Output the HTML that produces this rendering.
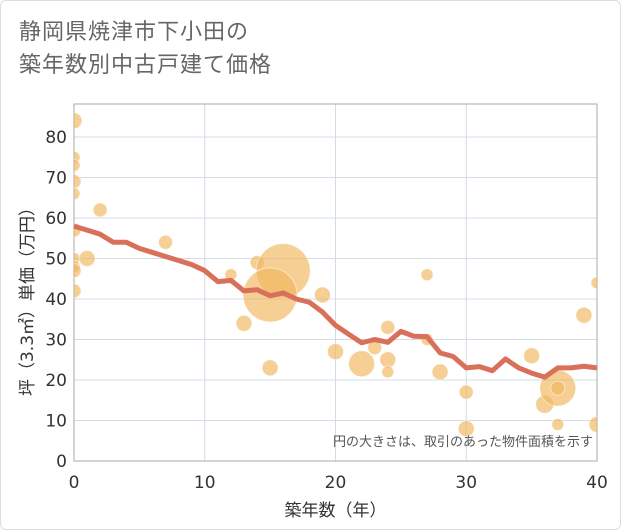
<!DOCTYPE html>
<html><head><meta charset="utf-8"><style>
body{margin:0;background:#fff;}
#wrap{position:relative;width:619px;height:528px;border:1px solid #ddd;border-radius:6px;background:#fff;font-family:"DejaVu Sans","Noto Sans CJK JP",sans-serif;}
#title{position:absolute;left:18px;top:14px;font-family:"Liberation Sans","Noto Sans CJK JP",sans-serif;font-size:22px;line-height:33px;color:#666;letter-spacing:1px;}
svg{position:absolute;left:0;top:0;}
</style></head><body>
<div id="wrap">
<div id="title">静岡県焼津市下小田の<br>築年数別中古戸建て価格</div>
<svg id="chart" width="621" height="530"></svg>
</div>
<script>
const xTicks=[0,10,20,30,40];
const yTicks=[0,10,20,30,40,50,60,70,80];
const lineAges=[0,1,2,3,4,5,6,7,8,9,10,11,12,13,14,15,16,17,18,19,20,21,22,23,24,25,26,27,28,29,30,31,32,33,34,35,36,37,38,39,40];
const lineValues=[58,57,56,54,54,52.5,51.5,50.5,49.5,48.5,47,44.3,44.6,42,42.3,40.8,41.5,40,39.2,36.8,33.5,31.3,29.2,30,29.3,32,30.8,30.7,26.7,25.8,23,23.3,22.3,25.2,23,21.7,20.7,23,23,23.4,23];
const bubbleAges=[0,0,0,0,0,2,0,0,0,0,1,0,7,12,14,16,15,13,19,15,20,22,23,24,24,24,27,27,28,30,30,35,36,37,37,37,39,40,40];
const bubbleValues=[84,75,73,69,66,62,57,50,48,47,50,42,54,46,49,47,41,34,41,23,27,24,28,33,25,22,46,30,22,17,8,26,14,18,18,9,36,44,9];
const bubbleSizes=[8,6,6,7,6,7,7,6,6,7,8,7,7,6,7,27,27,8,8,8,8,13,7,7,8,6,6,6,8,7,8,8,9,18,7,6,8,6,8];
const NS="http://www.w3.org/2000/svg";
const svg=document.getElementById('chart');
const L=73,R=596,T=103,B=460;
const xs=v=>L+(v-0)/40*(R-L);
const ys=v=>B-v/80*(B-136);
function mk(t,a){const e=document.createElementNS(NS,t);for(const k in a)e.setAttribute(k,a[k]);svg.appendChild(e);return e;}
const clip=mk('clipPath',{id:'pc'});
const cr=document.createElementNS(NS,'rect');cr.setAttribute('x',L);cr.setAttribute('y',T);cr.setAttribute('width',R-L);cr.setAttribute('height',B-T);clip.appendChild(cr);
xTicks.forEach(v=>{
 const g=mk('line',{x1:xs(v),x2:xs(v),y1:T,y2:B,stroke:'#d2dce8','stroke-width':1});
 
 
 const t=mk('text',{x:xs(v),y:487,'text-anchor':'middle','font-size':17,fill:'#333'});t.textContent=v;
 
 
});
yTicks.forEach(v=>{
 const g=mk('line',{x1:L,x2:R,y1:ys(v),y2:ys(v),stroke:'#d2dce8','stroke-width':1});
 
 
 const t=mk('text',{x:66,y:ys(v)+6,'text-anchor':'end','font-size':17,fill:'#333'});t.textContent=v;
 
 
});
const fr=mk('rect',{x:L,y:T,width:R-L,height:B-T,fill:'none',stroke:'#aaa','stroke-width':1});


const bg=mk('g',{'clip-path':'url(#pc)'});
bubbleAges.forEach((a,i)=>{
 const c=document.createElementNS(NS,'circle');
 c.setAttribute('cx',xs(a));c.setAttribute('cy',ys(bubbleValues[i]));c.setAttribute('r',bubbleSizes[i]);
 c.setAttribute('fill','#f0b65a');c.setAttribute('fill-opacity','0.65');c.setAttribute('stroke','#fff');c.setAttribute('stroke-opacity','0.5');
 
 
 bg.appendChild(c);
});
const pl=mk('polyline',{points:lineAges.map((a,i)=>xs(a)+','+ys(lineValues[i])).join(' '),fill:'none',stroke:'#d9705a','stroke-width':5,'stroke-linejoin':'round'});


const note=mk('text',{x:592,y:445,'text-anchor':'end','font-size':13,fill:'#555'});note.textContent='円の大きさは、取引のあった物件面積を示す';


const xt=mk('text',{x:(L+R)/2,y:515,'text-anchor':'middle','font-size':17,fill:'#333'});xt.textContent='築年数（年）';


const yt=mk('text',{x:0,y:0,'text-anchor':'middle','font-size':17,fill:'#333',transform:'translate(32,'+((T+B)/2+15)+') rotate(-90)'});yt.textContent='坪（3.3㎡）単価（万円）';


</script>
</body></html>
